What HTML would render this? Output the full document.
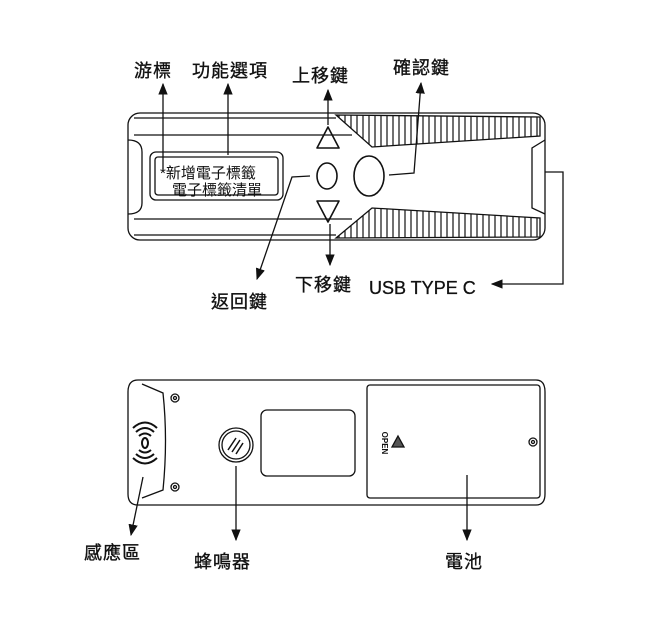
<!DOCTYPE html>
<html><head><meta charset="utf-8"><style>
html,body{margin:0;padding:0;background:#fff;width:660px;height:630px;overflow:hidden}
svg{display:block}
text{font-family:"Liberation Sans","Noto Sans CJK TC",sans-serif;fill:#111}
.l{font-size:18px;letter-spacing:1px;stroke:#111;stroke-width:0.35}
</style></head><body>
<svg width="660" height="630" viewBox="0 0 660 630" xmlns="http://www.w3.org/2000/svg">
<defs>
<pattern id="h" width="6" height="10" patternUnits="userSpaceOnUse"><rect width="6" height="10" fill="#fff"/><line x1="3" y1="0" x2="3" y2="10" stroke="#111" stroke-width="1.2"/></pattern>
<marker id="a" viewBox="0 0 10 10" refX="9" refY="5" markerWidth="9" markerHeight="9" orient="auto"><path d="M0,1 L10,5 L0,9 z" fill="#111"/></marker>
</defs>
<g fill="none" stroke="#111" stroke-width="1.3">
<rect x="128" y="113" width="417" height="127" rx="12"/>
<path d="M336,115 L372,147 L540,136 L540,117 Z" fill="url(#h)"/>
<path d="M336,238 L372,208 L540,218 L540,237 Z" fill="url(#h)"/>
<line x1="134" y1="118" x2="336" y2="118"/>
<line x1="134" y1="135" x2="352" y2="135"/>
<line x1="134" y1="219" x2="352" y2="219"/>
<line x1="134" y1="235" x2="336" y2="235"/>
<path d="M128,140 Q142,140 142,152 L142,203 Q142,214 128,214"/>
<path d="M545,140 L532,148 L532,208 L545,214"/>
<rect x="150" y="152" width="133" height="48" rx="6"/>
<rect x="155" y="157" width="123" height="38" rx="3"/>
<path d="M328,127 L339,148 L317,148 Z" stroke-width="1.6" stroke-linejoin="round"/>
<path d="M328,222 L339,201 L317,201 Z" stroke-width="1.6" stroke-linejoin="round"/>
<ellipse cx="327" cy="176" rx="10" ry="13" stroke-width="1.6"/>
<ellipse cx="369" cy="176" rx="15" ry="20" stroke-width="1.6"/>
<line x1="163" y1="170" x2="163" y2="84" marker-end="url(#a)"/>
<line x1="228" y1="155" x2="228" y2="84" marker-end="url(#a)"/>
<line x1="328" y1="125" x2="328" y2="90" marker-end="url(#a)"/>
<polyline points="389,175 414,173 421,83" marker-end="url(#a)"/>
<polyline points="310,176 292,177 257,279" marker-end="url(#a)"/>
<line x1="330" y1="224" x2="330" y2="265" marker-end="url(#a)"/>
<polyline points="545,172 563,172 563,284 492,284" marker-end="url(#a)"/>
<path d="M138,380 L536,380 Q545,380 545,392 L545,494 Q545,505 536,505 L138,505 Q128,505 128,494 L128,392 Q128,380 138,380 Z"/>
<path d="M142,384 L163,393 Q168,440 163,490 L142,498"/>
<circle cx="175" cy="398" r="4"/><circle cx="175" cy="398" r="1.5"/>
<circle cx="175" cy="487" r="4"/><circle cx="175" cy="487" r="1.5"/>
<circle cx="533" cy="442" r="4"/><circle cx="533" cy="442" r="1.5"/>
<circle cx="236" cy="445" r="17"/><circle cx="236" cy="445" r="14"/>
<path d="M228,450 L236,438 M232,452 L240,440 M236,454 L243,443" stroke-width="1.5"/>
<rect x="261" y="410" width="94" height="66" rx="6"/>
<rect x="367" y="385" width="173" height="113" rx="3"/>
<g stroke-width="2">
<path d="M139,436 Q145,431 151,436"/><path d="M136,432 Q145,424 154,432"/><path d="M133,428 Q145,417 157,428"/>
<path d="M139,450 Q145,455 151,450"/><path d="M136,454 Q145,462 154,454"/><path d="M133,458 Q145,469 157,458"/>
<ellipse cx="145" cy="443" rx="3" ry="5"/>
</g>
<path d="M398,436 L404,447 L392,447 Z" fill="#555"/>
<line x1="143" y1="477" x2="131" y2="535" marker-end="url(#a)"/>
<line x1="236" y1="466" x2="236" y2="540" marker-end="url(#a)"/>
<line x1="467" y1="475" x2="467" y2="540" marker-end="url(#a)"/>
</g>
<text x="160" y="178" font-size="15">*新增電子標籤</text>
<text x="172" y="195" font-size="15">電子標籤清單</text>
<text x="382" y="443" font-size="8" font-weight="bold" transform="rotate(90 382 443)" text-anchor="middle">OPEN</text>
<text class="l" x="134" y="77">游標</text>
<text class="l" x="192" y="77">功能選項</text>
<text class="l" x="292" y="82">上移鍵</text>
<text class="l" x="393" y="74">確認鍵</text>
<text class="l" x="295" y="291">下移鍵</text>
<text class="l" x="211" y="308">返回鍵</text>
<text x="369" y="294" font-size="18" stroke="#111" stroke-width="0.3">USB TYPE C</text>
<text class="l" x="84" y="559">感應區</text>
<text class="l" x="194" y="568">蜂鳴器</text>
<text class="l" x="445" y="568">電池</text>
</svg>
</body></html>
